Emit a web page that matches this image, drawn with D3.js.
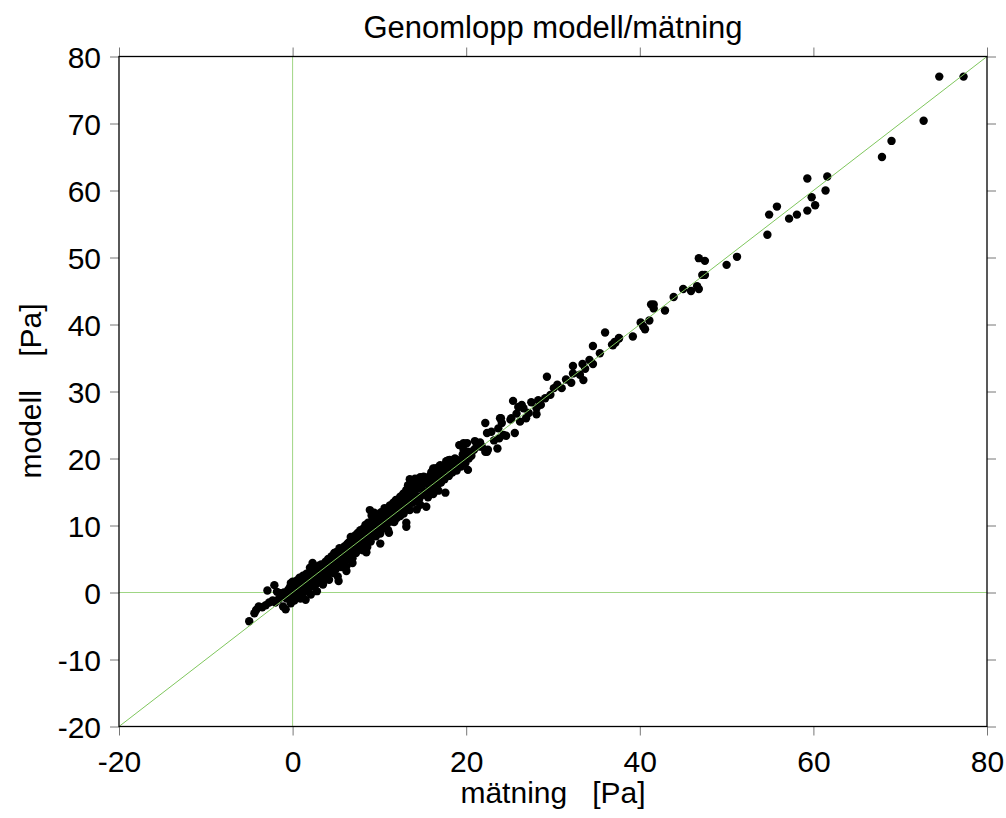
<!DOCTYPE html>
<html>
<head>
<meta charset="utf-8">
<script src="https://cdn.jsdelivr.net/npm/d3@7"></script>
<style>
  html, body { margin: 0; padding: 0; background: #fff; }
  svg { display: block; }
  text { font-family: "Liberation Sans", Arial, sans-serif; fill: #000; }
</style>
</head>
<body>
<svg id="chart" width="1006" height="818"></svg>
<script>
// ---- data (mätning [Pa], modell [Pa]) ----
const lowRange = [
  [-5.0,-4.3],[-4.4,-3.1],[-4.2,-2.6],[-3.9,-2.1],[-3.5,-2.2],[-3.1,-1.9],[-2.7,-1.5],[-2.3,-1.2],
  [-2.9,0.3],[-2.1,1.1],[-2.0,-1.5],[-1.8,0.1],[-1.6,-1.0],[-1.4,-0.1],[-1.3,-0.7],[-1.1,-2.1],
  [-1.0,0.0],[-0.9,-0.4],[-0.8,-2.5],[-0.7,-0.9],[-0.6,-0.1],[-0.5,0.4],[-0.4,-0.5],[-0.3,0.8],
  [-0.2,1.4],[-0.2,-1.6],[-0.1,0.2],[0.0,1.6],[0.0,-0.4],[0.1,0.6],[0.2,-1.2],[0.3,1.1],[0.4,0.0],
  [0.5,-0.7],[0.5,1.8],[0.6,0.5],[0.7,-0.4],[0.8,2.2],[0.8,1.0],[0.9,-0.9],[1.0,0.3],[1.1,1.6],
  [1.2,2.5],[1.2,-0.2],[1.3,0.8],[1.4,1.9],[1.5,-1.1],[1.5,0.6],[1.6,2.8],[1.7,1.3],[1.8,0.4],
  [1.9,2.2],[2.0,3.0],[2.0,1.0],[2.1,-0.3],[2.2,1.8],
  [0.2,0.9],[0.4,1.3],[0.6,-0.2],[0.9,1.4],[1.1,0.1],[1.3,2.1],[1.6,1.0],[1.8,2.6],[2.0,2.0],[2.0,3.7]
];
const midRange = [
  [2.3,4.4],[2.3,2.6],[2.4,0.9],[2.5,1.6],[2.6,3.3],[2.7,2.1],[2.8,0.2],[2.9,3.8],[3.0,2.6],[3.1,1.5],
  [3.2,3.2],[3.3,4.2],[3.4,2.4],[3.5,1.2],[3.6,3.7],[3.7,2.9],[3.8,4.6],[3.9,2.1],[4.0,3.4],[4.1,5.0],
  [4.2,1.9],[4.3,4.0],[4.4,3.0],[4.5,5.4],[4.6,4.4],[4.7,2.9],[4.8,5.9],[4.9,4.0],[5.0,3.5],[5.1,5.1],
  [5.2,2.4],[5.3,6.2],[5.3,1.7],[5.4,4.6],[5.5,5.7],[5.6,3.8],[5.7,6.4],[5.8,5.0],[5.9,4.2],[6.0,6.9],
  [6.1,5.6],[6.2,3.9],[6.2,3.2],[6.3,7.2],[6.4,6.0],[6.5,5.0],[6.6,7.6],[6.7,8.3],[6.7,6.4],[6.8,5.3],
  [6.9,5.1],[6.9,4.4],[7.0,7.8],[7.1,6.7],[7.2,8.5],[7.3,5.9],[7.4,7.2],[7.5,8.9],[7.6,6.5],[7.7,7.9],
  [7.8,9.3],[7.9,7.0],[8.0,8.4],[8.1,6.3],[8.2,9.6],[8.3,8.0],[8.4,10.1],[8.5,6.0],[8.5,7.4],[8.6,6.8],
  [8.6,9.0],[8.7,10.4],[8.8,8.2],[8.9,12.3],[8.9,9.7],[9.0,7.6],[9.1,11.5],[9.1,10.0],[9.2,8.8],[9.3,10.8],
  [9.4,9.3],[9.5,11.2],[9.6,8.4],[9.7,10.3],[9.8,11.6],[9.9,9.6],[10.0,10.9],[10.1,7.3],[10.1,8.8],
  [2.2,3.4],[2.4,2.3],[2.6,1.1],[2.8,2.9],[3.0,4.0],[3.2,2.0],[3.4,3.3],[3.6,2.6],[3.8,3.5],[4.0,4.6],
  [4.2,3.2],[4.4,4.9],[4.6,3.6],[4.8,4.7],[5.0,6.0],[5.2,4.3],[5.4,6.6],[5.6,5.2],[5.8,6.3],[6.0,4.8],
  [6.2,6.9],[6.4,7.4],[6.6,5.9],[6.8,7.0],[7.0,6.2],[7.2,7.6],[7.4,8.6],[7.6,7.3],[7.8,8.1],[8.0,9.2],
  [8.2,7.6],[8.4,8.8],[8.6,9.9],[8.8,9.0],[9.0,10.5],[9.2,9.8],[9.4,11.9],[9.6,10.0],[9.8,9.0],[10.0,11.7]
];
const upperRange = [
  [11.1,8.9],[13.1,9.8],[13.1,10.4],[12.0,12.3],[11.8,11.6],[12.4,14.3],[12.8,14.8],[13.1,15.3],
  [13.3,16.0],[13.6,16.4],[14.1,16.5],[14.7,16.8],[15.1,17.3],[15.4,12.8],[14.7,13.1],[14.1,13.6],
  [16.2,14.7],[16.8,15.2],[17.6,14.9],[16.0,17.8],[16.4,18.5],[17.0,19.0],[18.1,19.8],[18.7,20.0],
  [19.2,22.0],[14.7,17.2],[14.1,17.0],[13.5,16.9],[17.4,18.5],[16.8,18.7],[16.2,18.5],[16.0,18.0],
  [16.5,17.8],[17.0,17.5],[17.9,19.7],[18.7,19.9],[18.5,19.6],[17.7,19.6],[18.9,19.8],[19.5,19.8],
  [20.2,18.3],[19.7,22.3],[20.1,22.3],[19.3,22.0],[19.7,21.3],[20.2,21.0],[20.6,20.4],[20.1,20.5],
  [10.2,12.0],[10.3,10.2],[10.4,11.3],[10.5,9.6],[10.6,12.6],[10.7,11.0],[10.8,10.0],[10.9,12.1],
  [11.0,9.3],[11.1,11.5],[11.2,13.0],[11.3,10.6],[11.4,12.4],[11.5,11.3],[11.6,13.4],[11.7,10.5],
  [11.8,12.8],[11.9,13.8],[12.0,11.1],[12.1,13.2],[12.2,12.0],[12.3,14.0],[12.4,11.4],[12.5,13.3],
  [12.6,12.4],[12.7,14.6],[12.8,11.8],[12.9,13.9],[13.0,12.8],[13.2,14.6],[13.3,13.1],[13.4,15.2],
  [13.5,12.3],[13.6,14.2],[13.7,15.6],[13.8,13.4],[13.9,14.8],[14.0,16.0],[14.2,14.5],[14.3,12.4],
  [14.4,15.5],[14.5,16.7],[14.6,14.0],[14.8,15.7],[14.9,16.2],[15.0,14.6],[15.2,16.4],[15.3,15.1],
  [15.5,17.0],[15.6,14.2],[15.7,16.0],[15.8,17.4],[15.9,15.2],[16.1,16.6],[16.3,15.6],[16.6,17.2],
  [16.7,16.0],[16.9,18.1],[17.1,16.4],[17.3,17.9],[17.5,16.9],[17.8,18.6],[18.0,17.4],[18.2,19.0],
  [18.4,17.9],[18.6,18.8],[18.9,18.2],[19.1,19.4],[19.4,18.8],[19.6,20.6],[19.9,19.3],[20.3,20.0]
];
const outerRange = [
  [20.9,21.3],[21.2,21.8],[21.6,21.8],[21.6,22.4],[21.8,21.8],[22.2,21.0],[22.5,21.3],[22.4,21.0],
  [23.6,21.5],[23.2,22.7],[23.8,23.0],[24.3,23.5],[22.4,23.8],[22.2,25.3],[23.7,24.5],[24.1,25.3],
  [23.9,26.0],[25.1,25.8],[25.8,26.7],[26.0,27.7],[25.4,28.6],[25.6,23.8],[24.6,23.4],[25.2,26.0],
  [24.0,26.0],[26.9,26.0],[26.4,28.0],[26.6,27.5],[27.2,26.8],[28.1,27.5],[28.1,26.6],[28.3,28.7],
  [29.1,29.0],[29.7,29.5],[29.3,32.2],[30.1,30.5],[31.0,30.5],[32.1,31.3],[33.5,31.7],[33.1,32.5],
  [32.3,32.7],[32.3,33.8],[33.4,34.1],[33.7,33.4],[34.6,34.1],[34.2,34.7],[35.4,35.7],[34.6,36.8],
  [36.0,38.8],[36.8,37.0],[37.2,37.3],[37.6,37.9],[36.9,36.9],[37.1,37.4],[37.6,38.0],[39.2,38.2],
  [40.6,39.3],[40.4,39.7],[40.1,40.3],[41.1,40.6],[41.6,42.4],[41.3,43.0],[41.6,43.0],[42.9,42.1],
  [43.9,44.1],[45.0,45.3],[45.9,45.0],[46.6,45.7],[46.8,45.3],[47.2,47.4],[47.5,47.4],[47.5,49.5],
  [46.8,49.9],[50.0,48.9],[51.2,50.1],[54.7,53.4],[54.9,56.4],[55.8,57.6],[57.2,55.8],[58.1,56.4],
  [59.3,57.0],[60.2,57.8],[59.8,59.0],[61.4,60.0],[59.3,61.8],[61.6,62.1],[67.9,65.0],[69.0,67.4],
  [72.7,70.4],[74.5,77.0],[77.3,77.0],
  [21.0,22.6],[22.9,24.0],[26.2,25.5],[27.5,28.4],[28.6,28.0],[30.5,31.0],[31.5,31.8]
];
const xTicks = [-20, 0, 20, 40, 60, 80];
const yTicks = [-20, -10, 0, 10, 20, 30, 40, 50, 60, 70, 80];
const titleText = "Genomlopp modell/mätning";
const xLabelText = "mätning   [Pa]";
const yLabelText = "modell    [Pa]";

// ---- drawing ----
const svg = d3.select("#chart");
const L = 119, R = 987, T = 56.5, B = 726.5;
const x = d3.scaleLinear().domain([-20, 80]).range([L, R]);
const y = d3.scaleLinear().domain([-20, 80]).range([B, T]);
const tickLen = 9;
const tickColor = "#777";
const fmt = d => String(d);   // plain hyphen-minus like the original

// reference lines
const refColor = "#7fc75d";
svg.append("line").attr("x1", x(0)).attr("x2", x(0)).attr("y1", y(-20)).attr("y2", y(80))
  .attr("stroke", "#9fd684").attr("stroke-width", 1);
svg.append("line").attr("x1", x(-20)).attr("x2", x(80)).attr("y1", y(0)).attr("y2", y(0))
  .attr("stroke", "#9fd684").attr("stroke-width", 1);

// points
const allPoints = [].concat(lowRange, midRange, upperRange, outerRange);
svg.append("g").selectAll("circle").data(allPoints).join("circle")
  .attr("cx", d => x(d[0])).attr("cy", d => y(d[1])).attr("r", 4.2).attr("fill", "#000");

// diagonal
svg.append("line").attr("x1", x(-20)).attr("y1", y(-20)).attr("x2", x(80)).attr("y2", y(80))
  .attr("stroke", refColor).attr("stroke-width", 1);

// axes
function styleAxis(g) {
  g.select(".domain").remove();
  g.selectAll(".tick line").attr("stroke", tickColor).attr("stroke-width", 1);
  g.selectAll(".tick text").attr("font-size", 30).attr("font-family", '"Liberation Sans", Arial, sans-serif').attr("fill", "#000");
}
const gx = svg.append("g").attr("transform", `translate(0,${B})`)
  .call(d3.axisBottom(x).tickValues(xTicks).tickSize(tickLen).tickPadding(0).tickFormat(fmt));
styleAxis(gx);
gx.selectAll(".tick text").attr("y", 45).attr("dy", 0);

svg.append("g").attr("transform", `translate(0,${T})`)
  .call(d3.axisTop(x).tickValues(xTicks).tickSize(tickLen).tickFormat(""))
  .call(styleAxis);

const gy = svg.append("g").attr("transform", `translate(${L},0)`)
  .call(d3.axisLeft(y).tickValues(yTicks).tickSize(tickLen).tickPadding(9).tickFormat(fmt));
styleAxis(gy);
gy.selectAll(".tick text").attr("dy", "0.36em");

svg.append("g").attr("transform", `translate(${R},0)`)
  .call(d3.axisRight(y).tickValues(yTicks).tickSize(tickLen).tickFormat(""))
  .call(styleAxis);

// frame
svg.append("rect").attr("x", L).attr("y", T).attr("width", R - L).attr("height", B - T)
  .attr("fill", "none").attr("stroke", "#000").attr("stroke-width", 1.3);

// titles
svg.append("text").attr("x", 553).attr("y", 38).attr("text-anchor", "middle")
  .attr("font-size", 31).text(titleText);
svg.append("text").attr("x", 553).attr("y", 803).attr("text-anchor", "middle")
  .attr("font-size", 30).style("white-space", "pre").text(xLabelText);
svg.append("text").attr("transform", "translate(41,391) rotate(-90)").attr("text-anchor", "middle")
  .attr("font-size", 30).style("white-space", "pre").text(yLabelText);
</script>
</body>
</html>
